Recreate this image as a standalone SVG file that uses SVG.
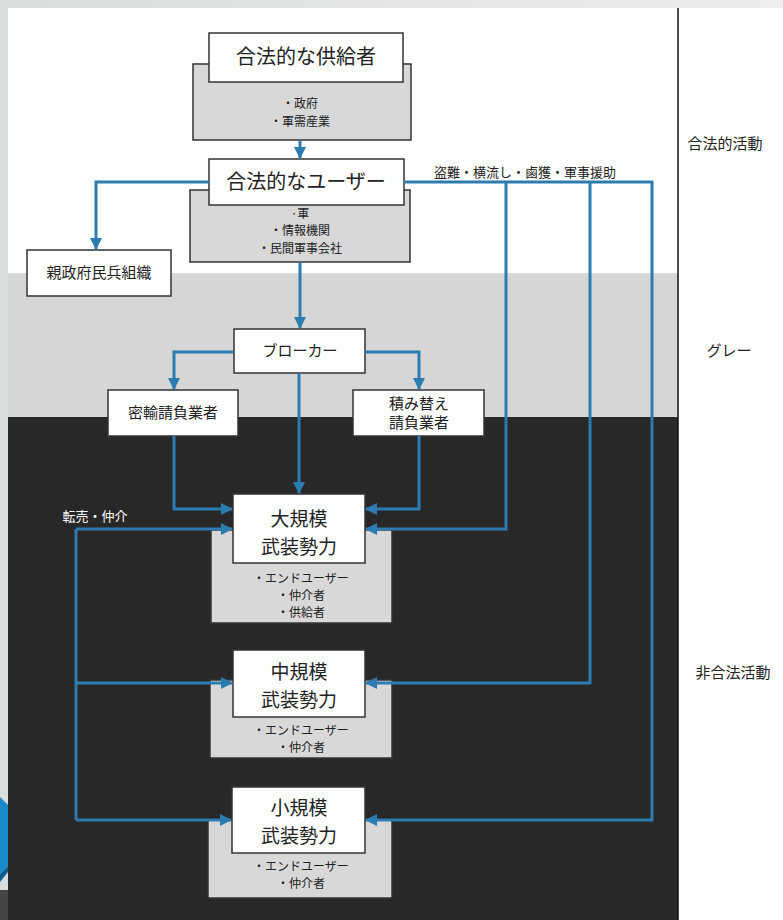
<svg xmlns="http://www.w3.org/2000/svg" width="783" height="920" viewBox="0 0 783 920">
<defs>
<linearGradient id="bg" x1="0" y1="0" x2="1" y2="0">
<stop offset="0" stop-color="#d9dcdd"/><stop offset="1" stop-color="#eceeee"/>
</linearGradient>
<marker id="ah" markerUnits="userSpaceOnUse" markerWidth="12" markerHeight="12" viewBox="0 0 12 12" refX="11" refY="6" orient="auto">
<path d="M0,0 L12,6 L0,12 z" fill="#2c7cb1"/>
</marker>
<style>
.t{font-family:"Noto Sans CJK JP","Noto Sans",sans-serif;fill:#222;text-anchor:middle}
.big{font-size:20px}
.ttl{font-size:19px}
.mid{font-size:15px}
.sm{font-size:13px}
.xs{font-size:12px}
.wb{fill:#fff;stroke:#333;stroke-width:1.5}
.gb{fill:#d8d8d8;stroke:#333;stroke-width:1.5}
.c{fill:none;stroke:#2c7cb1;stroke-width:3}
.ca{fill:none;stroke:#2c7cb1;stroke-width:3;marker-end:url(#ah)}
</style>
</defs>
<!-- background -->
<rect x="0" y="0" width="783" height="920" fill="url(#bg)"/>
<polygon points="0,797 8,805 8,866 0,874" fill="#1a8acb"/>
<polygon points="0,874 8,866 8,872 0,882" fill="#0f5d8f"/>
<rect x="0" y="890" width="8" height="30" fill="#444"/>
<rect x="8" y="8" width="670" height="265" fill="#fff"/>
<rect x="8" y="273" width="670" height="144" fill="#d6d6d6"/>
<rect x="8" y="417" width="670" height="503" fill="#282828"/>
<rect x="678" y="8" width="105" height="912" fill="#fff"/>
<line x1="678" y1="8" x2="678" y2="920" stroke="#111" stroke-width="1.5"/>

<g id="supplier">
<rect class="gb" x="193" y="64" width="218" height="76"/>
<rect class="wb" x="209" y="33" width="194" height="49"/>
<text class="t big" x="306" y="64">合法的な供給者</text>
<text class="t xs" x="300" y="108">・政府</text>
<text class="t xs" x="300" y="126">・軍需産業</text>
</g>

<g id="user">
<rect class="gb" x="190" y="190" width="220" height="72"/>
<rect class="wb" x="209" y="159" width="195" height="46"/>
<text class="t big" x="306" y="189">合法的なユーザー</text>
<text class="t xs" x="300" y="218">·軍</text>
<text class="t xs" x="300" y="235">・情報機関</text>
<text class="t xs" x="300" y="253">・民間軍事会社</text>
</g>

<g id="militia">
<rect class="wb" x="27" y="250" width="144" height="46"/>
<text class="t mid" x="99" y="278">親政府民兵組織</text>
</g>

<g id="broker">
<rect class="wb" x="234" y="329" width="131" height="44"/>
<text class="t mid" x="300" y="356">ブローカー</text>
</g>

<g id="smuggler">
<rect class="wb" x="108" y="390" width="130" height="46"/>
<text class="t mid" x="173" y="418">密輸請負業者</text>
</g>

<g id="transship">
<rect class="wb" x="353" y="390" width="131" height="46"/>
<text class="t mid" x="419" y="409">積み替え</text>
<text class="t mid" x="419" y="428">請負業者</text>
</g>

<g id="large">
<rect class="gb" x="211" y="530" width="181" height="93"/>
<rect class="wb" x="233" y="494" width="132" height="69"/>
<text class="t ttl" x="299" y="526">大規模</text>
<text class="t ttl" x="299" y="554">武装勢力</text>
<text class="t xs" x="301" y="583">・エンドユーザー</text>
<text class="t xs" x="301" y="600">・仲介者</text>
<text class="t xs" x="301" y="617">・供給者</text>
</g>

<g id="medium">
<rect class="gb" x="210" y="680" width="182" height="78"/>
<rect class="wb" x="233" y="650" width="132" height="67"/>
<text class="t ttl" x="299" y="679">中規模</text>
<text class="t ttl" x="299" y="707">武装勢力</text>
<text class="t xs" x="301" y="735">・エンドユーザー</text>
<text class="t xs" x="301" y="752">・仲介者</text>
</g>

<g id="small">
<rect class="gb" x="208" y="820" width="184" height="78"/>
<rect class="wb" x="232" y="787" width="133" height="66"/>
<text class="t ttl" x="299" y="815">小規模</text>
<text class="t ttl" x="299" y="843">武装勢力</text>
<text class="t xs" x="301" y="871">・エンドユーザー</text>
<text class="t xs" x="301" y="888">・仲介者</text>
</g>

<g id="zones">
<text class="t mid" x="725" y="149">合法的活動</text>
<text class="t mid" x="729" y="356">グレー</text>
<text class="t mid" x="733" y="678">非合法活動</text>
</g>

<!-- connectors -->
<g id="connectors">
<path class="ca" d="M300,141 V158"/>
<path class="ca" d="M209,182 H96 V249"/>
<path class="ca" d="M404,182 H652 V820 H366"/>
<path class="ca" d="M506,182 V529 H366"/>
<path class="ca" d="M590,182 V683 H366"/>
<path class="ca" d="M300,263 V328"/>
<path class="ca" d="M234,352 H174 V389"/>
<path class="ca" d="M365,352 H419 V389"/>
<path class="ca" d="M299,373 V493"/>
<path class="ca" d="M174,436 V509 H232"/>
<path class="ca" d="M419,436 V509 H366"/>
<path class="c" d="M76,529 V820"/>
<path class="ca" d="M76,529 H232"/>
<path class="ca" d="M76,683 H232"/>
<path class="ca" d="M76,820 H231"/>
<text class="t sm" x="525" y="177">盗難・横流し・鹵獲・軍事援助</text>
<text class="t sm" x="95" y="521" style="fill:#fff">転売・仲介</text>
</g>
</svg>
